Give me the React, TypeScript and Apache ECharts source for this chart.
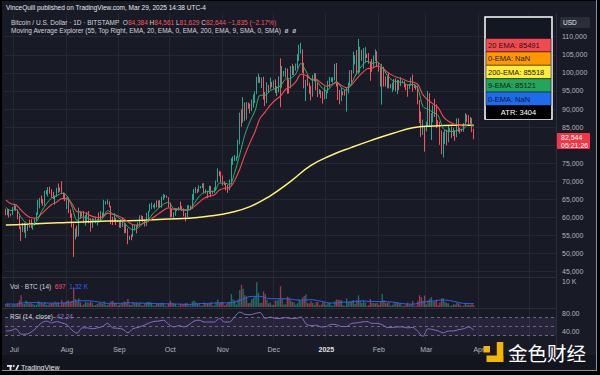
import React, { useEffect, useRef } from 'react';
import * as echarts from 'echarts';

const startDate = '2024-06-26';
const dayCount = 325;
const lastLabelDay = '2025-04-01';
const monthNames = ['Jan', 'Feb', 'Mar', 'Apr', 'May', 'Jun', 'Jul', 'Aug', 'Sep', 'Oct', 'Nov', 'Dec'];
// price level hidden behind the last-price tag in the reference
const hiddenPriceLabel = 80000;

// daily [open, high, low, close] in thousand USD, [4] = volume in thousand BTC
const ohlcv = [
  // Jun 2024 (26-30)
  [61.8, 62.4, 60.6, 60.8, 1.2], [60.8, 62.3, 60.6, 61.6, 1.1], [61.6, 62.2, 60.0, 60.3, 1.0], [60.3, 61.1, 60.3, 60.9, 0.5], [60.9, 62.9, 60.7, 62.7, 0.8],
  // Jul
  [62.7, 63.8, 62.2, 62.9, 0.9], [62.9, 63.3, 61.8, 62.0, 0.9], [62.0, 62.2, 59.5, 60.2, 1.5], [60.2, 60.5, 56.8, 57.0, 2.5], [57.0, 57.5, 53.5, 56.7, 4.5],
  [56.7, 58.5, 56.0, 58.2, 1.2], [58.2, 58.5, 55.8, 55.9, 1.1], [55.9, 58.2, 54.3, 56.7, 2.5], [56.7, 58.3, 56.3, 57.9, 1.5], [57.9, 59.4, 57.2, 57.7, 1.4],
  [57.7, 59.5, 57.1, 57.4, 1.4], [57.4, 58.5, 56.6, 57.9, 1.2], [57.9, 59.8, 57.8, 59.2, 0.8], [59.2, 61.4, 59.0, 60.8, 0.9], [60.8, 64.9, 60.7, 64.8, 2.2],
  [64.8, 65.4, 62.5, 65.1, 2.0], [65.1, 66.1, 63.9, 64.1, 1.6], [64.1, 65.1, 63.2, 63.9, 1.3], [63.9, 67.4, 63.3, 66.7, 1.9], [66.7, 67.6, 66.4, 67.1, 0.8],
  [67.1, 68.4, 65.8, 68.2, 0.9], [68.2, 68.5, 66.6, 67.6, 1.4], [67.6, 67.8, 65.5, 65.9, 1.5], [65.9, 67.1, 65.1, 65.4, 1.3], [65.4, 66.1, 63.5, 65.8, 2.0],
  [65.8, 68.2, 65.8, 68.0, 1.6], [68.0, 69.4, 66.8, 67.9, 1.8], [67.9, 68.3, 67.1, 68.2, 0.7], [68.2, 70.0, 66.5, 66.8, 2.6], [66.8, 66.9, 65.3, 66.2, 1.6],
  [66.2, 66.8, 64.5, 64.6, 1.7],
  // Aug
  [64.6, 65.6, 62.3, 65.3, 2.3], [65.3, 65.6, 61.2, 61.5, 2.6], [61.5, 62.2, 59.9, 60.7, 1.8], [60.7, 61.1, 57.3, 58.1, 2.2], [58.1, 58.3, 49.1, 54.0, 7.5],
  [54.0, 57.0, 53.9, 56.0, 3.0], [56.0, 57.7, 54.6, 55.1, 2.2], [55.1, 62.7, 54.8, 61.7, 3.4], [61.7, 61.7, 59.6, 60.9, 1.8], [60.9, 61.4, 60.3, 60.9, 0.7],
  [60.9, 61.8, 58.4, 58.7, 1.1], [58.7, 60.7, 57.7, 59.4, 2.0], [59.4, 61.5, 58.5, 60.6, 1.6], [60.6, 61.8, 58.4, 58.7, 1.6], [58.7, 59.8, 56.1, 57.5, 2.1],
  [57.5, 59.8, 57.1, 58.9, 1.6], [58.9, 59.7, 58.8, 59.5, 0.6], [59.5, 60.2, 58.4, 58.4, 0.8], [58.4, 59.6, 57.8, 59.5, 1.2], [59.5, 61.4, 58.6, 59.0, 1.5],
  [59.0, 61.8, 58.8, 61.2, 1.5], [61.2, 61.4, 59.8, 60.4, 1.2], [60.4, 64.9, 60.4, 64.1, 2.2], [64.1, 64.5, 63.6, 64.2, 0.8], [64.2, 65.0, 63.6, 64.2, 0.7],
  [64.2, 64.5, 62.8, 62.8, 1.2], [62.8, 63.2, 58.1, 59.4, 2.2], [59.4, 60.2, 57.9, 59.0, 2.3], [59.0, 61.2, 58.8, 59.4, 1.6], [59.4, 59.9, 57.9, 59.1, 1.6],
  [59.1, 59.4, 58.8, 58.9, 0.6],
  // Sep
  [58.9, 59.0, 57.2, 57.3, 0.9], [57.3, 59.4, 57.1, 59.1, 1.3], [59.1, 59.8, 57.4, 57.5, 1.4], [57.5, 58.5, 55.6, 58.0, 2.1], [58.0, 58.3, 55.7, 56.2, 1.6],
  [56.2, 57.0, 52.6, 53.9, 3.1], [53.9, 54.9, 53.8, 54.9, 0.9], [54.9, 55.3, 53.7, 54.8, 0.8], [54.8, 58.1, 54.6, 57.0, 1.8], [57.0, 58.0, 56.4, 57.6, 1.3],
  [57.6, 57.9, 55.6, 57.3, 1.7], [57.3, 58.6, 57.3, 58.1, 1.3], [58.1, 60.6, 57.7, 60.5, 1.7], [60.5, 60.6, 59.5, 60.0, 0.6], [60.0, 60.4, 58.7, 59.1, 0.6],
  [59.1, 59.2, 57.5, 58.2, 1.3], [58.2, 61.3, 57.6, 60.3, 1.8], [60.3, 61.8, 59.2, 61.7, 1.9], [61.7, 63.8, 61.6, 62.9, 2.0], [62.9, 64.1, 62.3, 63.2, 1.6],
  [63.2, 63.5, 62.8, 63.3, 0.5], [63.3, 64.0, 62.4, 63.6, 0.7], [63.6, 64.7, 62.8, 63.3, 1.3], [63.3, 64.7, 62.7, 64.3, 1.2], [64.3, 64.8, 62.9, 63.1, 1.1],
  [63.1, 65.8, 62.7, 65.2, 1.6], [65.2, 66.5, 64.8, 65.8, 1.4], [65.8, 66.3, 65.4, 65.9, 0.5], [65.9, 66.1, 65.4, 65.6, 0.5], [65.6, 65.6, 62.9, 63.3, 1.4],
  // Oct
  [63.3, 64.1, 60.0, 60.8, 2.4], [60.8, 62.4, 60.1, 60.6, 1.7], [60.6, 61.4, 59.9, 60.7, 1.4], [60.7, 62.4, 60.5, 62.1, 1.2], [62.1, 62.4, 61.7, 62.1, 0.4],
  [62.1, 62.9, 61.9, 62.8, 0.5], [62.8, 64.4, 62.1, 62.2, 1.4], [62.2, 63.2, 61.8, 62.1, 1.0], [62.1, 62.5, 60.3, 60.6, 1.1], [60.6, 61.3, 58.9, 60.3, 1.6],
  [60.3, 63.4, 60.1, 62.4, 1.4], [62.4, 63.4, 62.4, 63.2, 0.6], [63.2, 63.3, 62.0, 62.8, 0.6], [62.8, 66.5, 62.4, 66.1, 2.1], [66.1, 67.9, 64.8, 67.0, 2.5],
  [67.0, 68.4, 66.7, 67.6, 1.8], [67.6, 67.9, 66.7, 67.4, 1.2], [67.4, 68.9, 67.1, 68.4, 1.3], [68.4, 68.7, 68.0, 68.4, 0.5], [68.4, 69.4, 68.1, 69.0, 0.6],
  [69.0, 69.5, 66.6, 67.4, 1.7], [67.4, 67.8, 66.6, 67.4, 1.2], [67.4, 67.4, 65.3, 66.7, 1.3], [66.7, 68.8, 66.5, 68.2, 1.2], [68.2, 68.7, 65.6, 66.6, 1.8],
  [66.6, 67.4, 66.5, 67.0, 0.6], [67.0, 68.3, 66.8, 67.9, 0.6], [67.9, 70.2, 67.5, 69.9, 1.7], [69.9, 73.6, 69.7, 72.7, 2.9], [72.7, 72.9, 71.4, 72.3, 1.6],
  [72.3, 72.7, 69.7, 70.2, 1.9],
  // Nov
  [70.2, 71.6, 68.8, 69.5, 1.8], [69.5, 70.0, 69.0, 69.3, 0.6], [69.3, 69.4, 67.5, 68.7, 1.1], [68.7, 69.0, 66.8, 67.8, 1.6], [67.8, 70.5, 67.5, 69.4, 2.0],
  [69.4, 76.4, 69.1, 75.6, 5.0], [75.6, 76.9, 74.5, 75.9, 3.0], [75.9, 77.3, 75.6, 76.5, 2.5], [76.5, 76.9, 75.7, 76.7, 1.0], [76.7, 81.5, 76.5, 80.4, 3.0],
  [80.4, 89.0, 80.2, 88.7, 6.5], [88.7, 89.9, 85.1, 87.9, 8.5], [87.9, 93.3, 86.2, 90.5, 7.0], [90.5, 91.8, 86.7, 87.3, 4.5], [87.3, 91.9, 87.1, 91.0, 4.0],
  [91.0, 91.8, 90.1, 90.6, 1.4], [90.6, 91.5, 88.8, 89.8, 1.5], [89.8, 92.6, 89.4, 90.5, 3.0], [90.5, 94.0, 90.4, 92.3, 3.5], [92.3, 94.9, 91.6, 94.3, 4.0],
  [94.3, 98.9, 94.1, 98.3, 9.5], [98.3, 99.8, 97.2, 98.9, 5.5], [98.9, 98.9, 97.2, 97.7, 1.5], [97.7, 98.7, 95.8, 98.0, 1.6], [98.0, 98.9, 92.6, 93.0, 6.0],
  [93.0, 94.7, 90.8, 91.9, 5.0], [91.9, 97.4, 91.6, 95.9, 2.8], [95.9, 96.7, 94.7, 95.6, 1.4], [95.6, 98.7, 95.4, 97.5, 1.7], [97.5, 97.5, 96.0, 96.4, 0.9],
  // Dec
  [96.4, 97.9, 95.7, 97.2, 0.9], [97.2, 98.2, 94.4, 95.8, 2.6], [95.8, 96.3, 93.6, 96.0, 2.5], [96.0, 99.0, 94.6, 98.8, 3.0], [98.8, 104.0, 90.5, 96.6, 8.0],
  [96.6, 101.9, 95.9, 99.9, 3.1], [99.9, 100.5, 99.0, 99.9, 1.0], [99.9, 101.4, 98.7, 101.2, 1.0], [101.2, 101.2, 94.2, 97.4, 3.9], [97.4, 98.2, 94.3, 96.7, 3.7],
  [96.7, 101.9, 95.7, 101.2, 2.5], [101.2, 102.5, 99.4, 100.0, 2.0], [100.0, 101.9, 99.3, 101.4, 1.8], [101.4, 102.6, 100.6, 101.4, 0.9], [101.4, 105.2, 101.2, 104.3, 1.4],
  [104.3, 107.8, 103.3, 106.0, 2.9], [106.0, 108.3, 105.3, 106.1, 2.2], [106.1, 106.5, 100.0, 100.2, 3.6], [100.2, 102.8, 95.7, 97.5, 4.2], [97.5, 98.1, 92.2, 97.8, 4.8],
  [97.8, 99.5, 96.4, 97.1, 1.5], [97.1, 97.3, 94.2, 95.1, 1.3], [95.1, 96.4, 92.4, 94.7, 2.2], [94.7, 99.4, 93.4, 98.7, 1.6], [98.7, 99.9, 97.6, 99.4, 0.8],
  [99.4, 99.9, 95.2, 95.8, 1.8], [95.8, 97.3, 93.3, 94.2, 1.9], [94.2, 95.5, 94.1, 95.1, 0.6], [95.1, 95.2, 93.0, 93.7, 0.9], [93.7, 94.9, 91.5, 92.8, 1.9],
  [92.8, 96.2, 92.7, 93.4, 1.6],
  // Jan 2025
  [93.4, 94.9, 92.8, 94.6, 0.9], [94.6, 97.8, 94.4, 96.9, 1.6], [96.9, 98.9, 96.0, 98.1, 1.5], [98.1, 98.7, 97.5, 98.2, 0.6], [98.2, 98.8, 97.3, 98.3, 0.5],
  [98.3, 102.5, 97.9, 102.1, 2.1], [102.1, 102.7, 96.2, 96.9, 2.9], [96.9, 97.3, 92.5, 95.0, 2.8], [95.0, 95.3, 91.3, 92.5, 2.8], [92.5, 95.8, 92.2, 94.7, 2.6],
  [94.7, 94.9, 93.8, 94.6, 0.6], [94.6, 95.4, 93.7, 94.5, 0.5], [94.5, 95.9, 89.3, 94.5, 3.3], [94.5, 97.3, 94.3, 96.5, 1.8], [96.5, 100.7, 96.5, 100.5, 2.1],
  [100.5, 100.8, 97.3, 99.9, 2.0], [99.9, 105.9, 99.9, 104.1, 2.7], [104.1, 104.9, 102.3, 104.4, 1.2], [104.4, 106.3, 99.5, 101.1, 2.6], [101.1, 109.4, 99.6, 102.0, 4.5],
  [102.0, 107.2, 100.1, 106.1, 2.4], [106.1, 106.4, 103.3, 103.7, 1.5], [103.7, 106.9, 101.2, 103.9, 2.6], [103.9, 107.1, 102.8, 104.8, 1.6], [104.8, 105.3, 104.1, 104.7, 0.5],
  [104.7, 105.5, 102.5, 102.6, 0.7], [102.6, 103.2, 97.8, 102.0, 3.1], [102.0, 103.8, 100.3, 101.3, 1.5], [101.3, 104.8, 101.3, 103.7, 1.5], [103.7, 106.5, 103.3, 104.7, 1.4],
  [104.7, 106.0, 101.6, 102.4, 1.6],
  // Feb
  [102.4, 102.8, 100.3, 100.6, 0.8], [100.6, 101.5, 96.2, 97.7, 2.0], [97.7, 102.5, 91.2, 101.4, 5.0], [101.4, 101.7, 96.2, 97.9, 2.6], [97.9, 99.0, 96.2, 96.6, 1.5],
  [96.6, 99.2, 95.7, 96.6, 1.6], [96.6, 100.1, 95.7, 96.5, 1.8], [96.5, 96.9, 95.7, 96.5, 0.5], [96.5, 97.3, 94.7, 96.5, 0.8], [96.5, 98.3, 95.3, 97.4, 1.4],
  [97.4, 98.5, 94.9, 95.8, 1.4], [95.8, 98.1, 94.1, 97.9, 1.8], [97.9, 98.0, 95.2, 96.6, 1.3], [96.6, 98.8, 96.3, 97.5, 1.1], [97.5, 97.9, 97.1, 97.6, 0.4],
  [97.6, 97.7, 96.0, 96.1, 0.4], [96.1, 97.0, 95.2, 95.8, 1.0], [95.8, 96.8, 93.4, 95.5, 1.6], [95.5, 96.9, 95.5, 96.6, 0.8], [96.6, 98.7, 96.5, 98.3, 1.1],
  [98.3, 99.5, 94.8, 96.1, 2.3], [96.1, 96.9, 95.8, 96.6, 0.5], [96.6, 96.7, 95.3, 96.3, 0.5], [96.3, 96.5, 91.3, 91.5, 2.2], [91.5, 92.5, 86.1, 88.7, 4.5],
  [88.7, 89.3, 82.3, 84.2, 3.8], [84.2, 87.1, 82.8, 84.7, 2.4], [84.7, 85.1, 78.2, 84.4, 4.4],
  // Mar
  [84.4, 86.5, 83.8, 86.0, 1.0], [86.0, 95.0, 85.0, 94.3, 2.5], [94.3, 94.4, 85.1, 86.1, 3.2], [86.1, 88.9, 81.4, 87.2, 3.8], [87.2, 91.0, 86.3, 90.6, 2.1],
  [90.6, 92.8, 87.8, 89.9, 2.0], [89.9, 91.3, 84.7, 86.7, 2.8], [86.7, 86.9, 85.2, 86.2, 0.7], [86.2, 86.5, 80.1, 80.7, 1.7], [80.7, 84.1, 77.5, 78.5, 3.3],
  [78.5, 83.6, 76.6, 82.9, 3.4], [82.9, 84.3, 80.3, 83.7, 2.0], [83.7, 84.3, 79.9, 81.1, 1.6], [81.1, 85.3, 80.8, 84.0, 1.4], [84.0, 84.7, 83.6, 84.3, 0.4],
  [84.3, 85.1, 82.0, 82.6, 0.6], [82.6, 84.8, 82.5, 84.1, 1.0], [84.1, 84.1, 81.2, 82.7, 1.0], [82.7, 87.4, 82.2, 86.8, 1.6], [86.8, 87.4, 83.7, 84.2, 1.4],
  [84.2, 84.8, 83.2, 84.1, 0.9], [84.1, 84.5, 83.7, 83.8, 0.3], [83.8, 86.1, 83.7, 86.1, 0.5], [86.1, 88.8, 85.5, 87.5, 1.4], [87.5, 88.5, 86.3, 87.4, 0.9],
  [87.4, 88.3, 85.9, 86.9, 0.9], [86.9, 87.8, 85.9, 87.2, 0.8], [87.2, 87.5, 83.6, 84.4, 1.4], [84.384, 84.561, 81.629, 82.644, 0.697],
];

// moving averages read every 3rd day from the first candle (thousand USD)
const emaStep = 3;
const ema9 = [
  62.8, 61.9, 62.2, 60.0, 58.5, 58.0, 58.8, 61.6, 63.8, 65.4, 66.0, 66.7, 66.0, 63.0, 59.2, 60.1, 59.9, 59.2, 59.2, 59.7,
  61.9, 61.0, 60.1, 59.0, 57.4, 56.6, 57.1, 58.4, 59.4, 61.2, 62.5, 63.7, 64.2, 62.5, 62.4, 62.0, 62.1, 63.8, 65.8, 67.0,
  67.2, 67.2, 69.5, 69.5, 69.1, 72.5, 77.5, 82.9, 86.6, 89.5, 93.8, 93.8, 95.1, 95.7, 96.4, 98.3, 98.5, 99.7, 102.6, 100.5,
  98.1, 97.9, 96.1, 95.0, 96.3, 97.6, 95.9, 95.2, 97.2, 100.0, 102.0, 103.2, 102.6, 103.0, 101.5, 99.3, 97.9, 97.5, 97.4, 96.6,
  96.8, 95.7, 90.7, 89.9, 89.1, 88.2, 84.6, 83.8, 83.8, 84.2, 84.5, 85.8, 85.121,
];
const ema20 = [
  64.8, 63.8, 63.5, 62.0, 60.7, 59.9, 59.8, 61.0, 62.3, 63.6, 64.3, 65.2, 65.2, 63.8, 61.6, 61.5, 61.0, 60.3, 60.0, 60.1,
  61.2, 60.9, 60.5, 59.8, 58.8, 58.0, 57.9, 58.4, 58.9, 60.0, 61.0, 62.0, 62.7, 62.2, 62.2, 62.1, 62.1, 63.0, 64.2, 65.3,
  65.9, 66.2, 67.6, 68.1, 68.3, 70.3, 73.4, 77.3, 80.7, 83.8, 87.5, 89.2, 91.1, 92.5, 93.6, 95.4, 96.2, 97.5, 99.6, 99.3,
  98.3, 98.2, 97.2, 96.3, 96.7, 97.3, 96.5, 95.9, 96.7, 98.4, 99.9, 101.1, 101.3, 101.9, 101.4, 100.2, 99.3, 98.7, 98.3, 97.7,
  97.5, 96.8, 93.9, 92.5, 91.4, 90.4, 87.9, 86.6, 85.9, 85.5, 85.3, 85.8, 85.491,
];
// 200 EMA read every 12th day
const ema200Step = 12;
const ema200 = [
  57.9, 58.1, 58.4, 58.6, 58.8, 59.0, 59.1, 59.3, 59.6, 59.8, 60.4, 61.3, 63.0, 66.0, 70.0, 74.4,
  77.2, 79.4, 81.4, 83.2, 84.8, 85.3, 85.5, 85.518,
];
// RSI(14) read every 3rd day
const rsiStep = 3;
const rsi14 = [
  40, 41, 45, 33, 33, 38, 47, 58, 62, 58, 61, 58, 54, 42, 35, 47, 47, 45, 47, 50,
  57, 47, 46, 44, 36, 45, 48, 52, 57, 61, 62, 64, 55, 49, 52, 49, 54, 62, 64, 60,
  60, 60, 68, 60, 60, 72, 82, 77, 76, 79, 81, 68, 71, 68, 68, 70, 68, 68, 71, 56,
  52, 53, 49, 50, 55, 54, 50, 50, 57, 58, 60, 61, 57, 57, 54, 48, 48, 49, 49, 47,
  48, 39, 28, 45, 43, 40, 36, 40, 40, 43, 45, 49, 42.24,
];
// Volume MA(14) read every 6th day (thousand BTC)
const volMaStep = 6;
const volMa14 = [
  1.2, 1.1, 1.7, 1.7, 1.5, 1.5, 1.6, 2.4, 2.4, 2.0, 1.4, 1.4, 1.6, 1.5, 1.4, 1.3, 1.2, 1.1, 1.0, 1.3,
  1.4, 1.6, 1.6, 2.5, 4.0, 4.1, 3.2, 3.2, 3.0, 2.6, 2.8, 2.2, 1.5, 1.8, 2.0, 2.3, 2.1, 2.1, 1.9, 1.3,
  1.1, 1.9, 2.3, 2.7, 2.2, 1.4, 1.32,
];

const legendRows = [
  { text: '20 EMA: 85491', fill: '#f44a4f' },
  { text: '0-EMA: NaN', fill: '#ff9800' },
  { text: '200-EMA: 85518', fill: '#ffeb3b' },
  { text: '9-EMA: 85121', fill: '#22a65a' },
  { text: '0-EMA: NaN', fill: '#1e6bf0' },
];

const FONT = '"Liberation Sans", Arial, sans-serif';
const BG = '#181b26';
const GRIDC = '#242834';
const AXIS_TXT = '#b2b5be';
const UP = '#22ab94';
const DOWN = '#f7525f';

function buildDays(): string[] {
  const out: string[] = [];
  const t0 = Date.parse(startDate + 'T00:00:00Z');
  for (let i = 0; i < dayCount; i++) out.push(new Date(t0 + i * 86400000).toISOString().slice(0, 10));
  return out;
}

function txt(x: number, y: number, text: string, extra: any = {}) {
  return {
    type: 'text', x, y, z: 60,
    style: {
      text, fill: '#d1d4dc', fontSize: 6.5, fontFamily: FONT,
      textAlign: 'left', align: 'left', textVerticalAlign: 'middle', verticalAlign: 'middle',
      ...extra,
    },
  };
}

export default function App() {
  const ref = useRef<HTMLDivElement>(null);
  useEffect(() => {
    if (!ref.current) return;
    const chart = echarts.init(ref.current, null, { renderer: 'svg' });
    const days = buildDays();
    const isMonthStart = (_i: number, v: string) => v.slice(8) === '01';

    const candles = ohlcv.map((r) => [r[0] * 1000, r[3] * 1000, r[2] * 1000, r[1] * 1000]);
    const vols = ohlcv.map((r) => ({
      value: r[4],
      itemStyle: { color: r[3] >= r[0] ? 'rgba(34,171,148,0.6)' : 'rgba(247,82,95,0.6)' },
    }));

    const xBase = (gridIndex: number) => ({
      type: 'category', gridIndex, data: days, boundaryGap: true,
      axisLine: { show: false }, axisTick: { show: false }, axisLabel: { show: false }, splitLine: { show: false },
    });
    const yBase = (gridIndex: number) => ({
      type: 'value', gridIndex, position: 'right',
      axisLine: { show: false }, axisTick: { show: false }, splitLine: { show: false },
    });

    const legendEls: any[] = [
      { type: 'rect', z: 60, shape: { x: 485, y: 17, width: 67, height: 102 }, style: { fill: '#131722', stroke: '#ffffff', lineWidth: 1.5 } },
    ];
    legendRows.forEach((row, i) => {
      const y = 38.5 + i * 13.4;
      legendEls.push({ type: 'rect', z: 61, shape: { x: 486, y, width: 65, height: 13.4 }, style: { fill: row.fill, stroke: '#0d0f14', lineWidth: 0.5 } });
      legendEls.push({ ...txt(488, y + 6.9, row.text, { fill: '#15171c', fontSize: 7.5 }), z: 62 });
    });
    legendEls.push({ type: 'rect', z: 61, shape: { x: 486, y: 38.5 + 5 * 13.4, width: 65, height: 13.4 }, style: { fill: '#000000' } });
    legendEls.push({ ...txt(518.5, 38.5 + 5 * 13.4 + 6.9, 'ATR: 3404', { fill: '#ffffff', fontSize: 7.5, textAlign: 'center', align: 'center' }), z: 62 });

    const option: any = {
      animation: false,
      backgroundColor: BG,
      textStyle: { fontFamily: FONT },
      grid: [
        { left: 5, width: 551, top: 13, height: 327 },
        { left: 5, width: 551, top: 36.7, height: 235 },
        { left: 5, width: 551, top: 281, height: 26 },
        { left: 5, width: 551, top: 308.5, height: 31.5 },
      ],
      xAxis: [
        { ...xBase(0), splitLine: { show: true, interval: isMonthStart, lineStyle: { color: GRIDC, width: 1 } } },
        xBase(1),
        xBase(2),
        {
          ...xBase(3),
          axisLabel: {
            show: true,
            interval: (i: number, v: string) => isMonthStart(i, v) && v <= lastLabelDay,
            formatter: (v: string) => (v.slice(5, 7) === '01' ? '{b|' + v.slice(0, 4) + '}' : monthNames[Number(v.slice(5, 7)) - 1]),
            color: AXIS_TXT, fontSize: 7, margin: 6,
            rich: { b: { fontWeight: 'bold', color: '#e0e3eb', fontSize: 7 } },
          },
        },
      ],
      yAxis: [
        { type: 'value', gridIndex: 0, show: false, min: 0, max: 1 },
        {
          ...yBase(1), min: 45000, max: 110000, interval: 5000,
          axisLabel: {
            color: AXIS_TXT, fontSize: 7, margin: 6,
            formatter: (v: number) => (v === hiddenPriceLabel ? '' : v.toLocaleString('en-US')),
          },
          splitLine: { show: true, lineStyle: { color: GRIDC, width: 1 } },
        },
        {
          ...yBase(2), min: 0, max: 10, interval: 10,
          axisLabel: { color: AXIS_TXT, fontSize: 7, margin: 6, formatter: (v: number) => (v === 10 ? '10 K' : '') },
        },
        {
          ...yBase(3), min: 20, max: 90, interval: 10,
          axisLabel: { color: AXIS_TXT, fontSize: 7, margin: 6, formatter: (v: number) => (v === 80 || v === 40 ? v.toFixed(2) : '') },
        },
      ],
      series: [
        {
          type: 'candlestick', xAxisIndex: 1, yAxisIndex: 1, data: candles, barWidth: 1.3, z: 2,
          itemStyle: { color: UP, color0: DOWN, borderColor: UP, borderColor0: DOWN, borderWidth: 1 },
        },
        {
          type: 'line', xAxisIndex: 1, yAxisIndex: 1, z: 3, symbol: 'none', smooth: 0.5,
          data: ema200.map((v, k) => [k * ema200Step, v * 1000]),
          lineStyle: { color: '#fff176', width: 1.5 },
        },
        {
          type: 'line', xAxisIndex: 1, yAxisIndex: 1, z: 4, symbol: 'none', smooth: 0.3,
          data: ema20.map((v, k) => [k * emaStep, v * 1000]),
          lineStyle: { color: '#f44a4f', width: 1.1 },
        },
        {
          type: 'line', xAxisIndex: 1, yAxisIndex: 1, z: 5, symbol: 'none', smooth: 0.3,
          data: ema9.map((v, k) => [k * emaStep, v * 1000]),
          lineStyle: { color: '#2fb36e', width: 1 },
        },
        { type: 'bar', xAxisIndex: 2, yAxisIndex: 2, data: vols, barWidth: 1.3 },
        {
          type: 'line', xAxisIndex: 2, yAxisIndex: 2, symbol: 'none', smooth: 0.4, z: 4,
          data: volMa14.map((v, k) => [k * volMaStep, v]),
          lineStyle: { color: '#2962ff', width: 1 },
        },
        {
          type: 'line', xAxisIndex: 3, yAxisIndex: 3, symbol: 'none', smooth: 0.3, z: 4,
          data: rsi14.map((v, k) => [k * rsiStep, v]),
          lineStyle: { color: '#9575cd', width: 0.9 },
          markArea: { silent: true, itemStyle: { color: 'rgba(126,87,194,0.14)' }, data: [[{ yAxis: 30 }, { yAxis: 70 }]] },
          markLine: {
            silent: true, symbol: ['none', 'none'], label: { show: false },
            lineStyle: { color: '#787b86', type: [3, 3], width: 0.8 },
            data: [{ yAxis: 70 }, { yAxis: 50 }, { yAxis: 30 }],
          },
        },
      ],
      graphic: {
        elements: [
          // pane separators
          { type: 'line', z: 10, shape: { x1: 2, y1: 277.5, x2: 556, y2: 277.5 }, style: { stroke: '#2a2e39', lineWidth: 1 } },
          { type: 'line', z: 10, shape: { x1: 2, y1: 308.5, x2: 556, y2: 308.5 }, style: { stroke: '#2a2e39', lineWidth: 1 } },
          { type: 'line', z: 10, shape: { x1: 556.5, y1: 13, x2: 556.5, y2: 355 }, style: { stroke: '#2a2e39', lineWidth: 1 } },
          // bottom strip
          { type: 'rect', z: 10, shape: { x: 2, y: 355, width: 595, height: 16 }, style: { fill: '#12151e' } },
          // header
          txt(6, 7.3, 'VinceQuill published on TradingView.com, Mar 29, 2025 14:38 UTC-4', { fill: '#e6e8ee' }),
          txt(11, 22.5, '{g|Bitcoin / U.S. Dollar · 1D · BITSTAMP  O}{r|84,384} {g|H}{r|84,561} {g|L}{r|81,629} {g|C}{r|82,644} {r|−1,835 (−2.17%)}', {
            rich: {
              g: { fill: '#d1d4dc', fontSize: 6.5, fontFamily: FONT },
              r: { fill: '#f7525f', fontSize: 6.5, fontFamily: FONT },
            },
          }),
          txt(11, 30.7, 'Moving Average Explorer (55, Top Right, EMA, 20, EMA, 0, EMA, 200, EMA, 9, SMA, 0, SMA)  ø  ø', { fill: '#d1d4dc' }),
          // legend box
          ...legendEls,
          // USD box
          { type: 'rect', z: 60, shape: { x: 560, y: 17, width: 30, height: 11, r: 1.5 }, style: { fill: '#2a2e39' } },
          txt(563, 22.5, 'USD', { fill: '#e0e3eb', fontSize: 6.5 }),
          // last price tag
          { type: 'rect', z: 60, shape: { x: 557, y: 133, width: 33, height: 16, r: 1 }, style: { fill: '#f23645' } },
          txt(561, 137.5, '82,544', { fill: '#ffffff', fontSize: 7 }),
          txt(561, 145, '05:21:26', { fill: '#ffffff', fontSize: 7 }),
          // pane titles
          txt(10, 286, '{g|Vol · BTC (14)}  {r|697}  {b|1.32 K}', {
            rich: {
              g: { fill: '#d1d4dc', fontSize: 6.5, fontFamily: FONT },
              r: { fill: '#f7525f', fontSize: 6.5, fontFamily: FONT },
              b: { fill: '#2962ff', fontSize: 6.5, fontFamily: FONT },
            },
          }),
          txt(10, 316, '{g|RSI (14, close)}  {p|42.24}', {
            rich: {
              g: { fill: '#d1d4dc', fontSize: 6.5, fontFamily: FONT },
              p: { fill: '#9575cd', fontSize: 6.5, fontFamily: FONT },
            },
          }),
          // TradingView logo
          { type: 'rect', z: 60, shape: { x: 7, y: 365, width: 5, height: 1.8 }, style: { fill: '#e6e8ee' } },
          { type: 'rect', z: 60, shape: { x: 9.6, y: 365, width: 1.8, height: 5 }, style: { fill: '#e6e8ee' } },
          { type: 'circle', z: 60, shape: { cx: 13.6, cy: 366, r: 1 }, style: { fill: '#e6e8ee' } },
          { type: 'polygon', z: 60, shape: { points: [[15.2, 370], [17.6, 365], [19.4, 365], [17, 370]] }, style: { fill: '#e6e8ee' } },
          txt(21, 367.8, 'TradingView', { fill: '#e6e8ee', fontSize: 7 }),
          // watermark logo
          { type: 'rect', z: 70, shape: { x: 483.5, y: 346, width: 6.5, height: 6.5 }, style: { fill: '#f6b600' } },
          { type: 'rect', z: 70, shape: { x: 496.8, y: 342, width: 6.5, height: 20 }, style: { fill: '#f6b600' } },
          { type: 'rect', z: 70, shape: { x: 486.5, y: 355.5, width: 16.8, height: 6.5 }, style: { fill: '#f6b600' } },
          txt(508, 352.5, '金色财经', { fill: '#ffffff', fontSize: 19.5, fontFamily: '"Noto Sans CJK SC", sans-serif', z: 70 }),
          // frame
          { type: 'rect', z: 90, shape: { x: 0, y: 0, width: 2, height: 375 }, style: { fill: '#000000' } },
          { type: 'rect', z: 90, shape: { x: 0, y: 0, width: 600, height: 1 }, style: { fill: '#000000' } },
          { type: 'rect', z: 90, shape: { x: 597, y: 0, width: 3, height: 375 }, style: { fill: '#000000' } },
          { type: 'rect', z: 90, shape: { x: 0, y: 371, width: 600, height: 4 }, style: { fill: '#000000' } },
          { type: 'line', z: 91, shape: { x1: 596.5, y1: 0, x2: 596.5, y2: 371 }, style: { stroke: '#8c9099', lineWidth: 1 } },
          { type: 'line', z: 91, shape: { x1: 2, y1: 370.5, x2: 597, y2: 370.5 }, style: { stroke: '#8c9099', lineWidth: 1 } },
        ],
      },
    };
    chart.setOption(option);
    return () => chart.dispose();
  }, []);
  return <div ref={ref} style={{ position: 'absolute', left: 0, top: 0, width: 600, height: 375 }} />;
}
